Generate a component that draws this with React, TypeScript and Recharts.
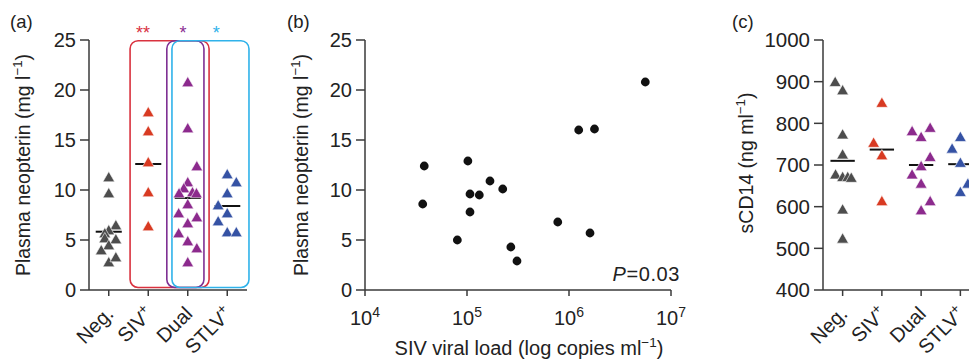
import React from 'react';
import { ScatterChart, Scatter, XAxis, YAxis, ReferenceLine, ReferenceArea, ReferenceDot } from 'recharts';

const FONT = '"Liberation Sans", Arial, Helvetica, sans-serif';
const INK = '#222222';
const AXIS = '#3a3a3a';

// ---------- categories ----------
const groupNames = ['Neg.', 'SIV', 'Dual', 'STLV'];
const groupSup = ['', '+', '', '+'];
const groupColors = ['#4d4d4d', '#d83a22', '#8c2a8d', '#3552a4'];

// ---------- panel (a): plasma neopterin (mg/l) ----------
const negNeopterin = [11.3, 9.7, 6.5, 6.0, 5.7, 5.1, 5.2, 4.5, 4.0, 2.8, 3.3];
const negNeopterinJitter = [0, 0, 0.18, 0, -0.1, 0.18, -0.1, 0, -0.19, 0, 0.18];
const sivNeopterin = [17.8, 15.9, 12.8, 9.8, 6.4];
const sivNeopterinJitter = [0, 0, 0, 0, 0];
const dualNeopterin = [20.8, 16.2, 12.4, 10.8, 10.2, 9.8, 9.7, 9.7, 8.6, 7.7, 7.3, 6.7, 5.7, 4.9, 4.2, 2.8];
const dualNeopterinJitter = [0, 0, 0.23, 0, -0.1, 0.12, -0.22, 0.22, 0, -0.23, 0.23, 0, -0.23, 0, 0.23, 0];
const stlvNeopterin = [11.6, 10.8, 9.7, 8.5, 7.7, 6.9, 5.8, 5.8];
const stlvNeopterinJitter = [0, 0.23, 0, -0.23, 0, -0.23, 0, 0.23];
const neopterinMeans = [5.83, 12.6, 9.2, 8.4];
const neopterinTicks = [0, 5, 10, 15, 20, 25];

// ---------- panel (b): SIV viral load vs neopterin ----------
const viralLoad = [38100, 36800, 102000, 107000, 132000, 107000, 80400, 168000, 224000, 269000, 309000, 776000, 1245000, 1778000, 1607000, 5598000];
const viralNeopterin = [12.4, 8.6, 12.9, 9.6, 9.5, 7.8, 5.0, 10.9, 10.1, 4.3, 2.9, 6.8, 16.0, 16.1, 5.7, 20.8];
const viralTicks = [1e4, 1e5, 1e6, 1e7];

// ---------- panel (c): sCD14 (ng/ml) ----------
const negCD14 = [900, 880, 774, 726, 678, 672, 672, 670, 594, 524];
const negCD14Jitter = [-0.19, 0, 0, 0, -0.18, 0, 0.13, 0.22, 0, 0];
const sivCD14 = [850, 754, 724, 614];
const sivCD14Jitter = [0, -0.21, 0, 0];
const dualCD14 = [782, 790, 768, 720, 698, 678, 656, 614, 592];
const dualCD14Jitter = [-0.23, 0.23, 0, 0.23, 0, -0.23, 0, 0.23, 0];
const stlvCD14 = [740, 768, 706, 636, 656];
const stlvCD14Jitter = [-0.21, 0, 0, 0, 0.19];
const cd14Means = [710, 737, 700, 702];
const cd14Ticks = [400, 500, 600, 700, 800, 900, 1000];

// significance boxes (panel a) in data units
const boxes = [
  { x1: 0.54, x2: 2.54, color: '#d9323f' },
  { x1: 1.47, x2: 2.41, color: '#7e2f93' },
  { x1: 1.6, x2: 3.55, color: '#2fb2ea' },
];
const stars = [
  { x: 0.87, text: '**', color: '#d9323f' },
  { x: 1.88, text: '*', color: '#8b2f93' },
  { x: 2.72, text: '*', color: '#2fb2ea' },
];

const pts = (vals: number[], jit: number[], g: number) => vals.map((v, i) => ({ x: g + jit[i], y: v }));

const triangle = (color: string) => (props: any) => {
  const { cx, cy } = props;
  if (cx == null || cy == null) return <g />;
  return (
    <polygon
      points={`${cx},${cy - 5.5} ${cx + 5.9},${cy + 4.8} ${cx - 5.9},${cy + 4.8}`}
      fill={color}
      stroke="#ffffff"
      strokeWidth={0.6}
    />
  );
};

const dot = (props: any) => {
  const { cx, cy } = props;
  if (cx == null || cy == null) return <g />;
  return <circle cx={cx} cy={cy} r={4.4} fill="#111" />;
};

const CatTick = (props: any) => {
  const { x, y, payload, fs } = props;
  const i = payload.value;
  const ax = x + 6;
  const ay = y + 17;
  return (
    <text x={ax} y={ay} transform={`rotate(-45 ${ax} ${ay})`} textAnchor="end" fontSize={fs} fontFamily={FONT} fill={INK}>
      {groupNames[i]}
      {groupSup[i] ? (
        <tspan fontSize={fs * 0.68} dy={-8}>
          {groupSup[i]}
        </tspan>
      ) : null}
    </text>
  );
};

const PowTick = (props: any) => {
  const { x, y, payload } = props;
  const e = Math.round(Math.log10(payload.value));
  return (
    <text x={x} y={y + 27} textAnchor="middle" fontSize={20} fontFamily={FONT} fill={INK}>
      10
      <tspan fontSize={14} dy={-8}>
        {e}
      </tspan>
    </text>
  );
};

const yLabel = (x: number, y: number, main: string, unit: string, fs: number) => () =>
  (
    <text x={x} y={y} transform={`rotate(-90 ${x} ${y})`} textAnchor="middle" fontSize={fs} fontFamily={FONT} fill={INK}>
      {main} ({unit}
      <tspan fontSize={fs * 0.68} dy={-8}>
        −1
      </tspan>
      <tspan dy={8}>)</tspan>
    </text>
  );

const axisProps = { stroke: AXIS, strokeWidth: 1.5 };

function PanelA() {
  const groups = [
    pts(negNeopterin, negNeopterinJitter, 0),
    pts(sivNeopterin, sivNeopterinJitter, 1),
    pts(dualNeopterin, dualNeopterinJitter, 2),
    pts(stlvNeopterin, stlvNeopterinJitter, 3),
  ];
  return (
    <ScatterChart width={260} height={361} margin={{ top: 40, right: 13, bottom: 21, left: 29 }}>
      <XAxis
        type="number"
        dataKey="x"
        domain={[-0.5, 3.5]}
        ticks={[0, 1, 2, 3]}
        interval={0}
        allowDataOverflow
        height={50}
        axisLine={axisProps}
        tickLine={axisProps}
        tickSize={6}
        tickMargin={2}
        tick={(p: any) => <CatTick {...p} fs={20} />}
      />
      <YAxis
        type="number"
        dataKey="y"
        domain={[0, 25]}
        ticks={neopterinTicks}
        interval={0}
        width={60}
        axisLine={axisProps}
        tickLine={axisProps}
        tickSize={9}
        tickMargin={4}
        tick={{ fontSize: 20, fontFamily: FONT, fill: INK }}
        label={{ content: yLabel(30, 165, 'Plasma neopterin', 'mg l', 19.5) }}
      />
      {boxes.map((b, i) => (
        <ReferenceArea
          key={'box' + i}
          x1={b.x1}
          x2={b.x2}
          y1={0.25}
          y2={24.93}
          ifOverflow="visible"
          shape={(p: any) => (
            <rect x={p.x} y={p.y} width={p.width} height={p.height} rx={8} ry={8} fill="none" stroke={b.color} strokeWidth={1.6} />
          )}
        />
      ))}
      {stars.map((s, i) => (
        <ReferenceDot
          key={'star' + i}
          x={s.x}
          y={25.1}
          r={0}
          ifOverflow="visible"
          shape={(p: any) => (
            <text x={p.cx} y={p.cy} textAnchor="middle" fontSize={18} fontFamily={FONT} fill={s.color}>
              {s.text}
            </text>
          )}
        />
      ))}
      {groups.map((d, i) => (
        <Scatter key={'s' + i} data={d} shape={triangle(groupColors[i])} isAnimationActive={false} />
      ))}
      {neopterinMeans.map((m, i) => (
        <ReferenceLine
          key={'m' + i}
          segment={[
            { x: i - 0.33, y: m },
            { x: i + 0.33, y: m },
          ]}
          stroke="#111"
          strokeWidth={2}
        />
      ))}
    </ScatterChart>
  );
}

function PanelB() {
  const data = viralLoad.map((v, i) => ({ x: v, y: viralNeopterin[i] }));
  return (
    <ScatterChart width={410} height={361} margin={{ top: 40, right: 19, bottom: 21, left: 25 }}>
      <XAxis
        type="number"
        dataKey="x"
        scale="log"
        domain={[1e4, 1e7]}
        ticks={viralTicks}
        interval={0}
        allowDataOverflow
        height={50}
        axisLine={axisProps}
        tickLine={axisProps}
        tickSize={6}
        tickMargin={2}
        tick={(p: any) => <PowTick {...p} />}
        label={{
          content: () => (
            <text x={249} y={355} textAnchor="middle" fontSize={20} fontFamily={FONT} fill={INK}>
              SIV viral load (log copies ml
              <tspan fontSize={13.5} dy={-8}>
                −1
              </tspan>
              <tspan dy={8}>)</tspan>
            </text>
          ),
        }}
      />
      <YAxis
        type="number"
        dataKey="y"
        domain={[0, 25]}
        ticks={neopterinTicks}
        interval={0}
        width={60}
        axisLine={axisProps}
        tickLine={axisProps}
        tickSize={9}
        tickMargin={4}
        tick={{ fontSize: 20, fontFamily: FONT, fill: INK }}
        label={{ content: yLabel(28, 165, 'Plasma neopterin', 'mg l', 19.5) }}
      />
      <Scatter data={data} shape={dot} isAnimationActive={false} />
    </ScatterChart>
  );
}

function PanelC() {
  const groups = [
    pts(negCD14, negCD14Jitter, 0),
    pts(sivCD14, sivCD14Jitter, 1),
    pts(dualCD14, dualCD14Jitter, 2),
    pts(stlvCD14, stlvCD14Jitter, 3),
  ];
  return (
    <ScatterChart width={300} height={361} margin={{ top: 40, right: 20, bottom: 21, left: 63 }}>
      <XAxis
        type="number"
        dataKey="x"
        domain={[-0.5, 3.5]}
        ticks={[0, 1, 2, 3]}
        interval={0}
        allowDataOverflow
        height={50}
        axisLine={axisProps}
        tickLine={axisProps}
        tickSize={6}
        tickMargin={2}
        tick={(p: any) => <CatTick {...p} fs={20} />}
      />
      <YAxis
        type="number"
        dataKey="y"
        domain={[400, 1000]}
        ticks={cd14Ticks}
        interval={0}
        width={60}
        axisLine={axisProps}
        tickLine={axisProps}
        tickSize={9}
        tickMargin={4}
        tick={{ fontSize: 20.5, fontFamily: FONT, fill: INK }}
        label={{ content: yLabel(53, 163, 'sCD14', 'ng ml', 19.5) }}
      />
      {groups.map((d, i) => (
        <Scatter key={'s' + i} data={d} shape={triangle(groupColors[i])} isAnimationActive={false} />
      ))}
      {cd14Means.map((m, i) => (
        <ReferenceLine
          key={'m' + i}
          segment={[
            { x: i - 0.31, y: m },
            { x: i + 0.31, y: m },
          ]}
          stroke="#111"
          strokeWidth={2}
        />
      ))}
    </ScatterChart>
  );
}

export default function App() {
  return (
    <div style={{ position: 'absolute', left: 0, top: 0, width: 969, height: 361, overflow: 'hidden', background: '#fff' }}>
      <div style={{ position: 'absolute', left: 0, top: 0 }}>
        <PanelA />
      </div>
      <div style={{ position: 'absolute', left: 280, top: 0 }}>
        <PanelB />
      </div>
      <div style={{ position: 'absolute', left: 700, top: 0 }}>
        <PanelC />
      </div>
      <svg width={969} height={361} style={{ position: 'absolute', left: 0, top: 0, pointerEvents: 'none' }}>
        <text x={10} y={28} fontSize={18.5} fontFamily={FONT} fill={INK}>(a)</text>
        <text x={287} y={28} fontSize={18.5} fontFamily={FONT} fill={INK}>(b)</text>
        <text x={732} y={28} fontSize={18.5} fontFamily={FONT} fill={INK}>(c)</text>
        <text x={680} y={281} textAnchor="end" fontSize={20} letterSpacing={0.6} fontFamily={FONT} fill={INK}>
          <tspan fontStyle="italic">P</tspan>=0.03
        </text>
      </svg>
    </div>
  );
}
